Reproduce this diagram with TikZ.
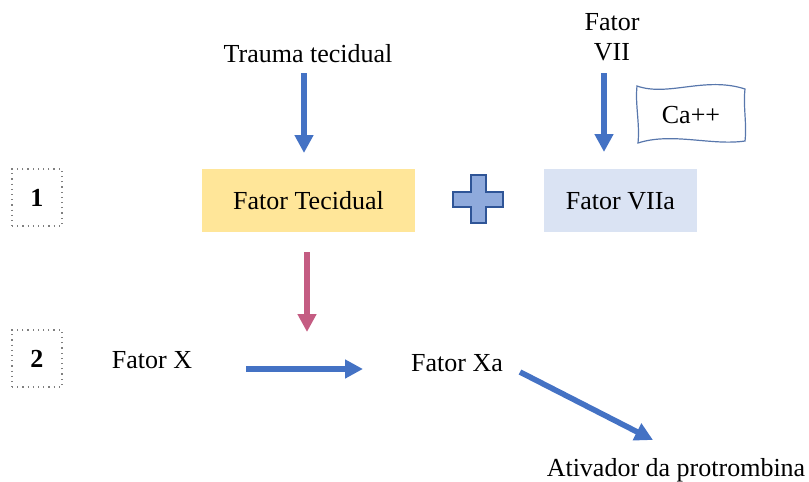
\documentclass[tikz,border=0pt]{standalone}
\usepackage{fontspec}
\setmainfont{Liberation Serif}
\usetikzlibrary{arrows.meta}
\definecolor{arrblue}{HTML}{4472C4}
\definecolor{arrpink}{HTML}{C45C82}
\definecolor{tfyellow}{HTML}{FFE699}
\definecolor{viiablue}{HTML}{DAE3F3}
\definecolor{plusfill}{HTML}{8FAADC}
\definecolor{plusline}{HTML}{2F5597}
\tikzset{
  lbl/.style={inner sep=0pt, font=\fontsize{13}{15}\selectfont},
  factorbox/.style={lbl, minimum height=31.5pt, text depth=0pt},
  stepnum/.style={draw=gray, dotted, line width=0.6pt, minimum width=25pt, minimum height=28.5pt, inner sep=0pt, font=\fontsize{13}{15}\selectfont\bfseries},
  flow/.style={line width=2.8pt, -{Triangle[width=9pt,length=9pt]}},
}
\begin{document}
\begin{tikzpicture}[x=0.5pt, y=-0.5pt]
\useasboundingbox (0,0) rectangle (809,482);

% step markers
\node[stepnum] (s1) at (37,197.5) {1};
\node[stepnum] (s2) at (37,358.5) {2};

% top inputs
\node[lbl, anchor=base] (trauma) at (308,62) {Trauma tecidual};
\node[lbl, anchor=south, align=center, text depth=0pt] (f7) at (612,61) {Fator\\VII};

% calcium tag with wavy outline
\draw[plusline!80, line width=0.6pt]
  (637,86) .. controls (668,97) and (705,76) .. (745,89)
  .. controls (743,106) and (747,124) .. (745,141)
  .. controls (712,146) and (672,132) .. (638,143)
  .. controls (640,124) and (635,104) .. (637,86) -- cycle;
\node[lbl] (ca) at (691,115) {Ca++};

% complex members
\node[factorbox, fill=tfyellow, minimum width=106.5pt] (tf) at (308.5,200.5) {Fator Tecidual};
\node[factorbox, fill=viiablue, minimum width=76.5pt] (f7a) at (620.5,200.5) {Fator VIIa};

% plus sign between the two factors
\draw[fill=plusfill, draw=plusline, line width=1pt]
  (470.5,175) -- (485.5,175) -- (485.5,192) -- (503,192) -- (503,206.5)
  -- (485.5,206.5) -- (485.5,223) -- (470.5,223) -- (470.5,206.5)
  -- (453,206.5) -- (453,192) -- (470.5,192) -- cycle;

% second stage
\node[lbl, anchor=base] (fx) at (152,368) {Fator X};
\node[lbl, anchor=base] (fxa) at (457,371) {Fator Xa};
\node[lbl, anchor=base] (prot) at (676,476) {Ativador da protrombina};

% arrow end points
\coordinate (t0) at (304,73);   \coordinate (t1) at (304,153);
\coordinate (v0) at (604,73);   \coordinate (v1) at (604,152);
\coordinate (p0) at (307,252);  \coordinate (p1) at (307,332);
\coordinate (x0) at (246,369);  \coordinate (x1) at (363,369);
\coordinate (d0) at (520,372);  \coordinate (d1) at (653,440);

\draw[flow, arrblue] (t0) -- (t1);
\draw[flow, arrblue] (v0) -- (v1);
\draw[flow, arrpink] (p0) -- (p1);
\draw[flow, arrblue] (x0) -- (x1);
\draw[flow, arrblue] (d0) -- (d1);
\end{tikzpicture}
\end{document}
